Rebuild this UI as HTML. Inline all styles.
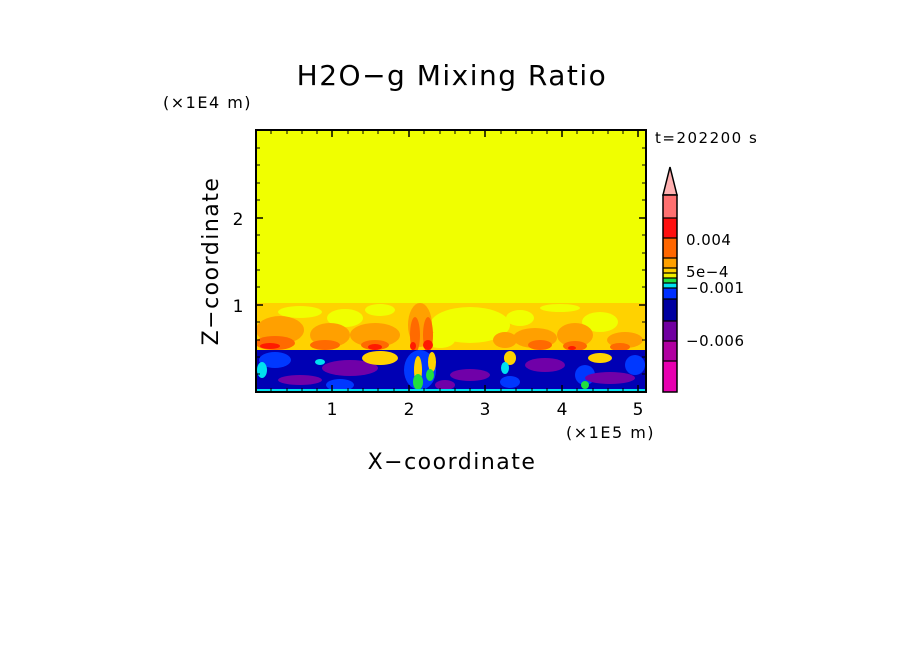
<!DOCTYPE html>
<html><head><meta charset="utf-8"><style>
body{margin:0;background:#fff}
svg text{font-family:"DejaVu Sans","Liberation Sans",sans-serif;fill:#000}
</style></head><body>
<svg width="904" height="654" viewBox="0 0 904 654" xmlns="http://www.w3.org/2000/svg">
<rect width="904" height="654" fill="#fff"/>
<text x="452" y="85" font-size="28" text-anchor="middle" letter-spacing="1.5">H2O−g Mixing Ratio</text>
<text x="163" y="108" font-size="16" letter-spacing="1.5">(×1E4 m)</text>
<text x="655" y="143" font-size="15" letter-spacing="1.5">t=202200 s</text>
<defs><clipPath id="c"><rect x="256" y="130" width="390" height="262"/></clipPath></defs>
<g clip-path="url(#c)">
<rect x="256" y="130" width="390" height="262" fill="#f0ff00"/>
<rect x="256" y="303" width="390" height="47" fill="#ffd200"/>
<g fill="#f0ff00">
<ellipse cx="300" cy="312" rx="22" ry="6"/><ellipse cx="345" cy="318" rx="18" ry="9"/>
<ellipse cx="380" cy="310" rx="15" ry="6"/><ellipse cx="470" cy="325" rx="40" ry="18"/>
<ellipse cx="520" cy="318" rx="14" ry="8"/><ellipse cx="600" cy="322" rx="18" ry="10"/>
<ellipse cx="560" cy="308" rx="20" ry="4"/><ellipse cx="440" cy="340" rx="15" ry="8"/>
</g>
<g fill="#ffa000">
<ellipse cx="280" cy="330" rx="24" ry="14"/><ellipse cx="330" cy="335" rx="20" ry="12"/>
<ellipse cx="375" cy="335" rx="25" ry="12"/><ellipse cx="420" cy="325" rx="12" ry="22"/>
<ellipse cx="535" cy="338" rx="22" ry="10"/><ellipse cx="575" cy="335" rx="18" ry="12"/>
<ellipse cx="625" cy="340" rx="18" ry="8"/><ellipse cx="505" cy="340" rx="12" ry="8"/>
</g>
<g fill="#ff6a00">
<ellipse cx="275" cy="343" rx="20" ry="7"/><ellipse cx="325" cy="345" rx="15" ry="5"/>
<ellipse cx="375" cy="345" rx="14" ry="5"/><ellipse cx="415" cy="335" rx="5" ry="18"/>
<ellipse cx="428" cy="335" rx="5" ry="18"/><ellipse cx="540" cy="345" rx="12" ry="5"/>
<ellipse cx="575" cy="346" rx="12" ry="5"/><ellipse cx="620" cy="347" rx="10" ry="4"/>
</g>
<g fill="#ff1a00">
<ellipse cx="270" cy="346" rx="10" ry="3"/><ellipse cx="375" cy="347" rx="7" ry="3"/>
<ellipse cx="428" cy="345" rx="5" ry="5"/><ellipse cx="413" cy="346" rx="3" ry="4"/>
<ellipse cx="572" cy="348" rx="4" ry="2"/>
</g>
<rect x="256" y="350" width="390" height="42" fill="#0000b4"/>
<g fill="#0038ff">
<ellipse cx="275" cy="360" rx="16" ry="8"/><ellipse cx="340" cy="385" rx="14" ry="6"/>
<ellipse cx="420" cy="370" rx="16" ry="20"/><ellipse cx="510" cy="382" rx="10" ry="6"/>
<ellipse cx="585" cy="375" rx="10" ry="10"/><ellipse cx="635" cy="365" rx="10" ry="10"/>
</g>
<g fill="#7000a8">
<ellipse cx="300" cy="380" rx="22" ry="5"/><ellipse cx="350" cy="368" rx="28" ry="8"/>
<ellipse cx="470" cy="375" rx="20" ry="6"/><ellipse cx="545" cy="365" rx="20" ry="7"/>
<ellipse cx="610" cy="378" rx="25" ry="6"/><ellipse cx="445" cy="385" rx="10" ry="5"/>
</g>
<g fill="#ffd200">
<ellipse cx="380" cy="358" rx="18" ry="7"/><ellipse cx="418" cy="370" rx="4" ry="14"/>
<ellipse cx="432" cy="362" rx="4" ry="10"/><ellipse cx="510" cy="358" rx="6" ry="7"/>
<ellipse cx="600" cy="358" rx="12" ry="5"/>
</g>
<g fill="#20e040">
<ellipse cx="418" cy="382" rx="5" ry="8"/><ellipse cx="430" cy="375" rx="4" ry="6"/>
<ellipse cx="585" cy="385" rx="4" ry="4"/>
</g>
<g fill="#00e0f0">
<rect x="256" y="389" width="390" height="3"/><ellipse cx="262" cy="370" rx="5" ry="8"/>
<ellipse cx="320" cy="362" rx="5" ry="3"/><ellipse cx="505" cy="368" rx="4" ry="6"/>
</g>
</g>
<rect x="256" y="130" width="390" height="262" fill="none" stroke="#000" stroke-width="2"/>
<g stroke="#000" stroke-width="1.5">
<path d="M332 130v7M409 130v7M485 130v7M562 130v7M638 130v7M332 392v-7M409 392v-7M485 392v-7M562 392v-7M638 392v-7"/>
<path d="M256 218h7M256 305h7M646 218h-7M646 305h-7"/>
</g>
<g stroke="#000" stroke-width="1">
<path d="M271 130v4M287 130v4M302 130v4M317 130v4M348 130v4M363 130v4M378 130v4M394 130v4M424 130v4M440 130v4M455 130v4M470 130v4M501 130v4M516 130v4M532 130v4M547 130v4M577 130v4M593 130v4M608 130v4M623 130v4"/>
<path d="M271 392v-4M287 392v-4M302 392v-4M317 392v-4M348 392v-4M363 392v-4M378 392v-4M394 392v-4M424 392v-4M440 392v-4M455 392v-4M470 392v-4M501 392v-4M516 392v-4M532 392v-4M547 392v-4M577 392v-4M593 392v-4M608 392v-4M623 392v-4"/>
<path d="M256 148h4M256 165h4M256 183h4M256 200h4M256 235h4M256 253h4M256 270h4M256 287h4M256 322h4M256 340h4M256 357h4M256 374h4"/>
<path d="M646 148h-4M646 165h-4M646 183h-4M646 200h-4M646 235h-4M646 253h-4M646 270h-4M646 287h-4M646 322h-4M646 340h-4M646 357h-4M646 374h-4"/>
</g>
<g font-size="17" text-anchor="middle">
<text x="332" y="415">1</text><text x="409" y="415">2</text><text x="485" y="415">3</text><text x="562" y="415">4</text><text x="638" y="415">5</text>
</g>
<text x="238" y="225" font-size="17" text-anchor="middle">2</text>
<text x="238" y="312" font-size="17" text-anchor="middle">1</text>
<text x="566" y="438" font-size="16" letter-spacing="1.5">(×1E5 m)</text>
<text x="452" y="469" font-size="22" text-anchor="middle" letter-spacing="1.5">X−coordinate</text>
<text transform="translate(218,261) rotate(-90)" font-size="22" text-anchor="middle" letter-spacing="1.5">Z−coordinate</text>
<polygon points="670,167 663,195 677,195" fill="#ffb0b0" stroke="#000" stroke-width="1.5"/>
<rect x="663" y="195" width="14" height="23" fill="#ff7070"/>
<rect x="663" y="218" width="14" height="20" fill="#ff1010"/>
<rect x="663" y="238" width="14" height="20" fill="#ff6600"/>
<rect x="663" y="258" width="14" height="10" fill="#ffa000"/>
<rect x="663" y="268" width="14" height="5" fill="#ffd000"/>
<rect x="663" y="273" width="14" height="5" fill="#f0f000"/>
<rect x="663" y="278" width="14" height="5" fill="#20e040"/>
<rect x="663" y="283" width="14" height="5" fill="#00e0f0"/>
<rect x="663" y="288" width="14" height="11" fill="#0030ff"/>
<rect x="663" y="299" width="14" height="22" fill="#0000a0"/>
<rect x="663" y="321" width="14" height="20" fill="#7000a0"/>
<rect x="663" y="341" width="14" height="20" fill="#b000a0"/>
<rect x="663" y="361" width="14" height="31" fill="#e800b0"/>
<g stroke="#000" stroke-width="1.2" fill="none">
<rect x="663" y="195" width="14" height="197" stroke-width="1.5"/>
<path d="M663 218h14M663 238h14M663 258h14M663 268h14M663 273h14M663 278h14M663 283h14M663 288h14M663 299h14M663 321h14M663 341h14M663 361h14"/>
</g>
<g font-size="15" letter-spacing="0.5">
<text x="686" y="245">0.004</text>
<text x="686" y="277">5e−4</text>
<text x="686" y="293">−0.001</text>
<text x="686" y="346">−0.006</text>
</g>
</svg>
</body></html>
